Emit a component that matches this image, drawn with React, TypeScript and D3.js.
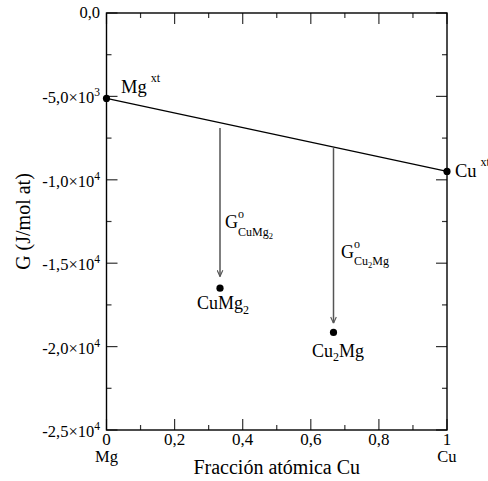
import React from "react";
import * as d3 from "d3";

const W = 488;
const H = 481;

const xDomain = [0, 1];
const yDomain = [-25000, 0];
const xMajorTicks = [0, 0.2, 0.4, 0.6, 0.8, 1];
const xMinorTicks = [0.1, 0.3, 0.5, 0.7, 0.9];
const xTickLabels = ["0", "0,2", "0,4", "0,6", "0,8", "1"];
const yMajorTicks = [0, -5000, -10000, -15000, -20000, -25000];
const yMinorTicks = [-2500, -7500, -12500, -17500, -22500];
const yTickMantissa = ["0,0", "-5,0×10", "-1,0×10", "-1,5×10", "-2,0×10", "-2,5×10"];
const yTickExponent = ["", "3", "4", "4", "4", "4"];

// pure elements (line between them)
const pureX = [0, 1];
const pureG = [-5120, -9500];
// compounds
const compX = [1 / 3, 2 / 3];
const compG = [-16500, -19150];
// formation-energy arrows
const arrowX = [1 / 3, 2 / 3];
const arrowStartG = [-6900, -8100];
const arrowEndG = [-15800, -18600];

export default function App() {
  const m = { left: 106.5, right: 447, top: 13, bottom: 430 };
  const x = d3.scaleLinear().domain(xDomain).range([m.left, m.right]);
  const y = d3.scaleLinear().domain(yDomain).range([m.bottom, m.top]);
  const font = "'Liberation Serif', 'Times New Roman', serif";
  const line = d3
    .line<number>()
    .x((_, i) => x(pureX[i]))
    .y((d) => y(d));

  const major = 11;
  const minor = 5;
  const tickColor = "#333";

  return (
    <svg width={W} height={H} style={{ position: "absolute", left: 0, top: 0, background: "#fff" }} fontFamily={font}>
      <defs>
        <marker id="ah" viewBox="0 0 10 10" refX="10" refY="5" markerWidth="7" markerHeight="7" orient="auto" markerUnits="userSpaceOnUse">
          <path d="M1,1 L10,5 L1,9" fill="none" stroke="#555" strokeWidth="1.6" />
        </marker>
      </defs>
      {/* ticks */}
      {xMajorTicks.map((t) => (
        <g key={"xm" + t}>
          <line x1={x(t)} x2={x(t)} y1={m.bottom} y2={m.bottom - major} stroke={tickColor} strokeWidth={1.2} />
          <line x1={x(t)} x2={x(t)} y1={m.top} y2={m.top + major} stroke={tickColor} strokeWidth={1.2} />
        </g>
      ))}
      {xMinorTicks.map((t) => (
        <g key={"xn" + t}>
          <line x1={x(t)} x2={x(t)} y1={m.bottom} y2={m.bottom - minor} stroke={tickColor} strokeWidth={1.2} />
          <line x1={x(t)} x2={x(t)} y1={m.top} y2={m.top + minor} stroke={tickColor} strokeWidth={1.2} />
        </g>
      ))}
      {yMajorTicks.map((t) => (
        <g key={"ym" + t}>
          <line x1={m.left} x2={m.left + major} y1={y(t)} y2={y(t)} stroke={tickColor} strokeWidth={1.2} />
          <line x1={m.right} x2={m.right - major} y1={y(t)} y2={y(t)} stroke={tickColor} strokeWidth={1.2} />
        </g>
      ))}
      {yMinorTicks.map((t) => (
        <g key={"yn" + t}>
          <line x1={m.left} x2={m.left + minor} y1={y(t)} y2={y(t)} stroke={tickColor} strokeWidth={1.2} />
          <line x1={m.right} x2={m.right - minor} y1={y(t)} y2={y(t)} stroke={tickColor} strokeWidth={1.2} />
        </g>
      ))}
      {/* frame */}
      <rect x={m.left} y={m.top} width={m.right - m.left} height={m.bottom - m.top} fill="none" stroke="#000" strokeWidth={1.4} />

      {/* x tick labels */}
      {xMajorTicks.map((t, i) => (
        <text key={"xl" + t} x={x(t)} y={m.bottom + 15} textAnchor="middle" fontSize={17}>
          {xTickLabels[i]}
        </text>
      ))}
      <text x={x(0)} y={m.bottom + 32} textAnchor="middle" fontSize={16.5}>Mg</text>
      <text x={x(1)} y={m.bottom + 32} textAnchor="middle" fontSize={16.5}>Cu</text>
      <text x={(m.left + m.right) / 2} y={474} textAnchor="middle" fontSize={20}>Fracción atómica Cu</text>

      {/* y tick labels */}
      {yMajorTicks.map((t, i) => (
        <text key={"yl" + t} x={100} y={y(t) + (yTickExponent[i] ? 7 : 5)} textAnchor="end" fontSize={16.5}>
          {yTickMantissa[i]}
          {yTickExponent[i] ? (
            <tspan dy={-7} fontSize={11.5}>{yTickExponent[i]}</tspan>
          ) : null}
        </text>
      ))}
      <text transform={`translate(30, ${(m.top + m.bottom) / 2}) rotate(-90)`} textAnchor="middle" fontSize={20}>
        G (J/mol at)
      </text>

      {/* line between pure elements */}
      <path d={line(pureG) || ""} fill="none" stroke="#000" strokeWidth={1.2} />
      {pureG.map((g, i) => (
        <circle key={"p" + i} cx={x(pureX[i])} cy={y(g)} r={3.6} fill="#000" />
      ))}
      {compG.map((g, i) => (
        <circle key={"c" + i} cx={x(compX[i])} cy={y(g)} r={3.6} fill="#000" />
      ))}
      {arrowX.map((ax, i) => (
        <line key={"a" + i} x1={x(ax)} x2={x(ax)} y1={y(arrowStartG[i])} y2={y(arrowEndG[i])} stroke="#555" strokeWidth={1.5} markerEnd="url(#ah)" />
      ))}

      {/* labels */}
      <text x={121} y={93} fontSize={18.5}>
        Mg<tspan dx={4} dy={-11} fontSize={12}>xt</tspan>
      </text>
      <text x={455} y={177} fontSize={18.5}>
        Cu<tspan dx={4} dy={-11} fontSize={12}>xt</tspan>
      </text>
      <text x={197} y={309} fontSize={18}>
        CuMg<tspan dy={5} fontSize={12}>2</tspan>
      </text>
      <text x={312} y={357} fontSize={18}>
        Cu<tspan dy={4} fontSize={12}>2</tspan><tspan dy={-4}>Mg</tspan>
      </text>
      <text x={225} y={228} fontSize={18}>
        G<tspan dy={-10} fontSize={12}>o</tspan>
        <tspan dx={-6} dy={18} fontSize={12}>CuMg</tspan>
        <tspan dy={3} fontSize={8.5}>2</tspan>
      </text>
      <text x={341} y={258} fontSize={18}>
        G<tspan dy={-10} fontSize={12}>o</tspan>
        <tspan dx={-6} dy={17} fontSize={12}>Cu</tspan>
        <tspan dy={3} fontSize={8.5}>2</tspan>
        <tspan dy={-3} fontSize={12}>Mg</tspan>
      </text>
    </svg>
  );
}
